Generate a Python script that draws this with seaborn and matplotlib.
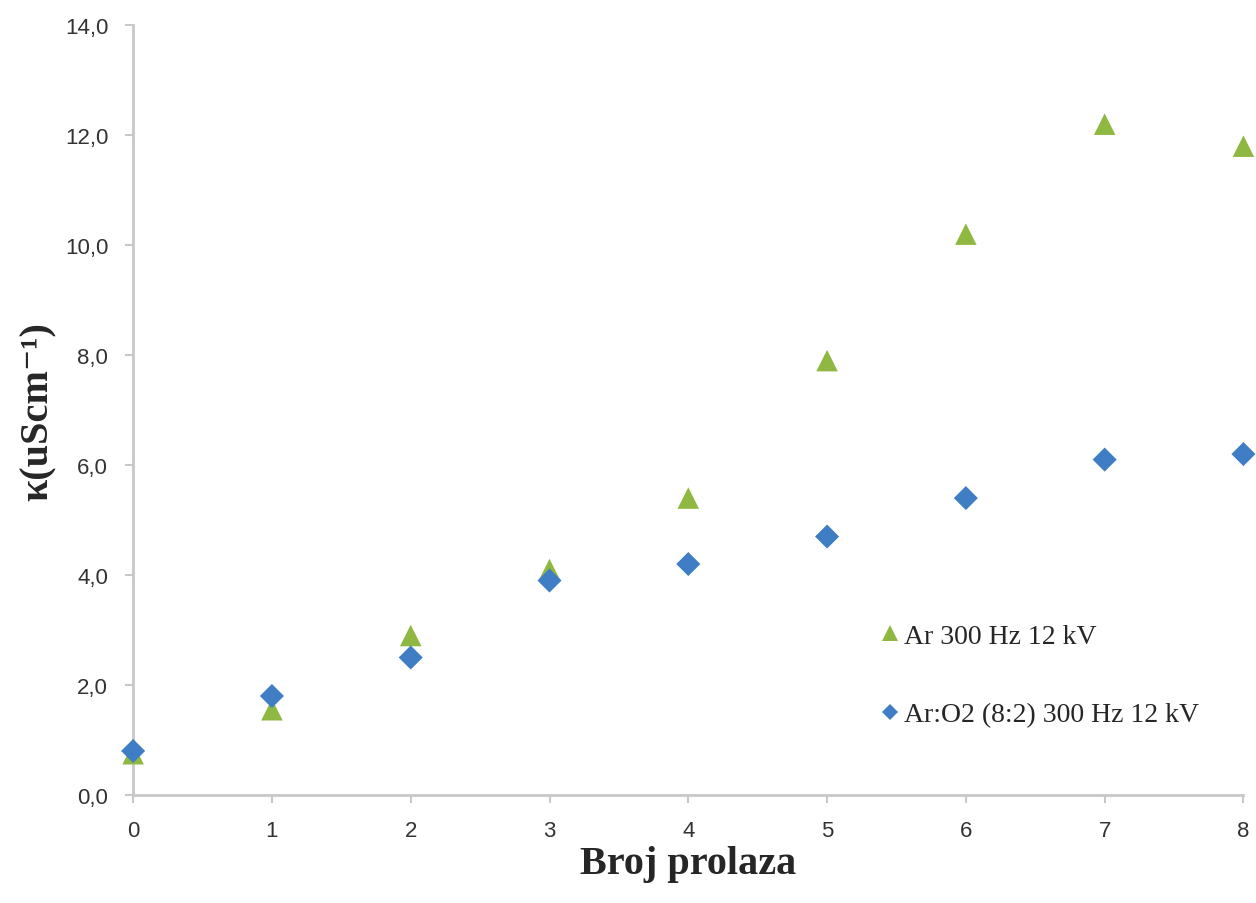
import pandas as pd
import matplotlib.pyplot as plt
import seaborn as sns

# number of passes vs conductivity
broj_prolaza = [0, 1, 2, 3, 4, 5, 6, 7, 8]
kappa_ar = [0.75, 1.55, 2.9, 4.1, 5.4, 7.9, 10.2, 12.2, 11.8]
kappa_ar_o2 = [0.8, 1.8, 2.5, 3.9, 4.2, 4.7, 5.4, 6.1, 6.2]
serija = ['Ar 300 Hz 12 kV', 'Ar:O2 (8:2) 300 Hz 12 kV']
y_ticks = [0, 2, 4, 6, 8, 10, 12, 14]

df = pd.concat([
    pd.DataFrame({'n': broj_prolaza, 'kappa': kappa_ar, 'serija': serija[0]}),
    pd.DataFrame({'n': broj_prolaza, 'kappa': kappa_ar_o2, 'serija': serija[1]}),
])

sns.set_style('white')
fig = plt.figure(figsize=(12.56, 9.04), dpi=100)
ax = fig.add_axes([0.106, 0.1195, 0.884, 0.8515])

sns.scatterplot(data=df, x='n', y='kappa', hue='serija', style='serija', size='serija',
                palette={serija[0]: '#8FB842', serija[1]: '#3F7DC4'},
                markers={serija[0]: '^', serija[1]: 'D'},
                sizes={serija[0]: 240, serija[1]: 150},
                linewidth=0, ax=ax, zorder=3, clip_on=False, legend=False)

ax.set_xlim(0, 8)
ax.set_ylim(0, 14)
ax.set_xticks(broj_prolaza)
ax.set_yticks(y_ticks)
ax.set_yticklabels([f'{v:.1f}'.replace('.', ',') for v in y_ticks])

for side in ['top', 'right']:
    ax.spines[side].set_visible(False)
for side in ['left', 'bottom']:
    ax.spines[side].set_color('#c8c8c8')
    ax.spines[side].set_linewidth(2)
ax.tick_params(axis='both', which='major', length=6, width=1.5, color='#c8c8c8',
               direction='out', labelsize=16, labelcolor='#333333',
               bottom=True, left=True)
ax.tick_params(axis='y', pad=12)
ax.tick_params(axis='x', pad=12)
for lab in ax.get_xticklabels() + ax.get_yticklabels():
    lab.set_family('Liberation Sans')

ax.set_xlabel('Broj prolaza', family='Liberation Serif', fontweight='bold',
              fontsize=29, labelpad=3)
ax.set_ylabel('κ(uScm⁻¹)', family=['Liberation Serif', 'DejaVu Serif'], fontweight='bold',
              fontsize=29, labelpad=6)

# legend built from the same series styles
h1 = plt.Line2D([], [], ls='', marker='^', ms=11, color='#8FB842', mew=0)
h2 = plt.Line2D([], [], ls='', marker='D', ms=8, color='#3F7DC4', mew=0)
ax.legend([h1, h2], serija, loc='upper left', bbox_to_anchor=(0.647, 0.255),
          frameon=False, prop={'family': 'Liberation Serif', 'size': 20},
          handletextpad=0.0, handlelength=1.0, labelspacing=1.9)

fig.savefig('out.png', dpi=100)
